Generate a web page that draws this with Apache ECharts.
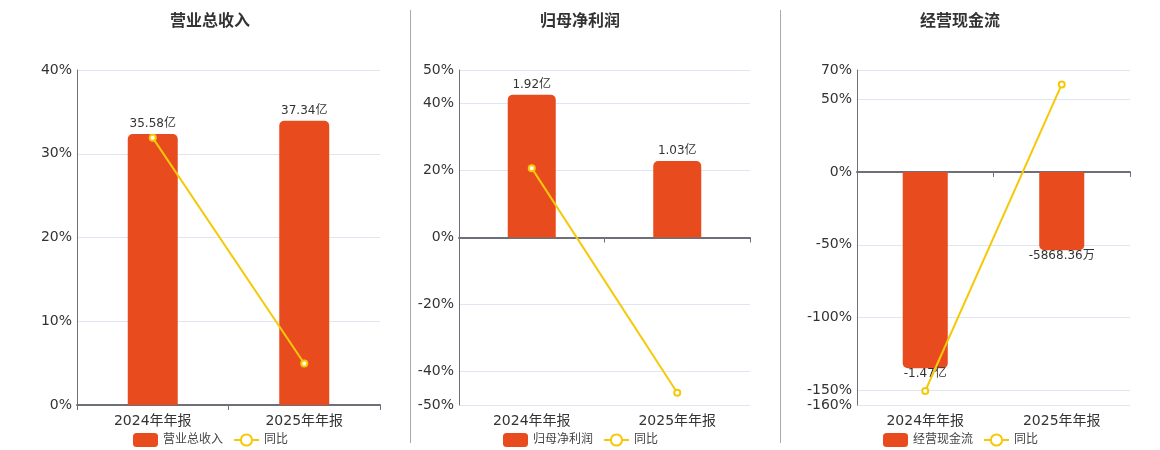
<!DOCTYPE html>
<html><head><meta charset="utf-8">
<script src="https://cdn.jsdelivr.net/npm/echarts@6/dist/echarts.min.js"></script>
<style>html,body{margin:0;padding:0;background:#fff}#c{width:1160px;height:450px}</style>
</head><body><div id="c"></div>
<script>
// ---- data (amounts in 万元, YoY in %) ----
const categories = ['2024年年报', '2025年年报'];
const panelTitles = ['营业总收入', '归母净利润', '经营现金流'];
const revenue = [355800, 373400];
const revenueYoY = [31.9, 4.95];
const profit = [19200, 10300];
const profitYoY = [20.7, -46.35];
const cashFlow = [-14700, -5868.36];
const cashFlowYoY = [-150.4, 60.08];
const pctMin = [0, -50, -160];
const pctMax = [40, 50, 70];
const amtMin = [0, -22540, -17450];
const amtMax = [440000, 22540, 7634];

const BAR = '#E84C1E', LINE = '#F5C90A';
const FONT = "'DejaVu Sans','Noto Sans CJK SC',sans-serif";
const grids = [
  {left: 77, width: 303, top: 70, bottom: 45},
  {left: 459, width: 291, top: 70, bottom: 45},
  {left: 857, width: 273, top: 70, bottom: 45}
];
const centers = [210, 580, 960];
const amounts = [revenue, profit, cashFlow];
const yoys = [revenueYoY, profitYoY, cashFlowYoY];

function fmtAmt(v) {
  if (Math.abs(v) >= 10000) return (v / 10000).toFixed(2) + '亿';
  return v.toFixed(2) + '万';
}

const option = {
  animation: false,
  textStyle: {fontFamily: FONT},
  title: [], legend: [], grid: grids, xAxis: [], yAxis: [], series: [],
  graphic: [
    {type: 'line', shape: {x1: 410.5, y1: 10, x2: 410.5, y2: 443}, style: {stroke: '#aaa', lineWidth: 1}},
    {type: 'line', shape: {x1: 780.5, y1: 10, x2: 780.5, y2: 443}, style: {stroke: '#aaa', lineWidth: 1}}
  ]
};

for (let i = 0; i < 3; i++) {
  option.title.push({
    text: panelTitles[i], left: centers[i], top: 14, textAlign: 'center', padding: 0,
    textStyle: {fontSize: 16, fontWeight: 'bold', color: '#333', fontFamily: FONT}
  });
  option.legend.push({
    data: [panelTitles[i], '同比'], left: centers[i] - 82, top: 428,
    itemWidth: 25, itemHeight: 14, itemGap: 10,
    textStyle: {fontSize: 12, color: '#444', fontFamily: FONT},
    selectedMode: false
  });
  option.xAxis.push({
    type: 'category', gridIndex: i, data: categories,
    axisLine: {onZero: true, onZeroAxisIndex: i * 2, lineStyle: {color: '#6E7079', width: 2}},
    axisTick: {show: true, lineStyle: {color: '#6E7079'}},
    axisLabel: {fontSize: 14, color: '#333', margin: 9, fontFamily: FONT}
  });
  option.yAxis.push({
    type: 'value', gridIndex: i, min: pctMin[i], max: pctMax[i],
    interval: i === 0 ? 10 : undefined,
    axisLine: {show: true, onZero: false, lineStyle: {color: '#6E7079'}},
    axisTick: {show: false},
    axisLabel: {formatter: '{value}%', fontSize: 14, color: '#333', margin: 5, fontFamily: FONT},
    splitLine: {lineStyle: {color: '#E0E6F1'}}
  });
  option.yAxis.push({
    type: 'value', gridIndex: i, min: amtMin[i], max: amtMax[i], show: false,
    splitLine: {show: false}
  });
  option.series.push({
    name: panelTitles[i], type: 'bar', xAxisIndex: i, yAxisIndex: i * 2 + 1,
    barWidth: '33%',
    itemStyle: {color: BAR},
    data: amounts[i].map(v => ({
      value: v,
      itemStyle: {borderRadius: v >= 0 ? [5, 5, 0, 0] : [0, 0, 5, 5]},
      label: {show: true, position: v >= 0 ? 'top' : 'bottom', distance: v >= 0 ? 4 : 0,
        formatter: p => fmtAmt(p.value), fontSize: 12, color: '#333', fontFamily: FONT}
    }))
  });
  option.series.push({
    name: '同比', type: 'line', xAxisIndex: i, yAxisIndex: i * 2,
    data: yoys[i], symbol: 'emptyCircle', symbolSize: 6, z: 5,
    lineStyle: {color: LINE, width: 2}, itemStyle: {color: LINE, borderWidth: 2}
  });
}

const chart = echarts.init(document.getElementById('c'));
chart.setOption(option);
</script></body></html>
